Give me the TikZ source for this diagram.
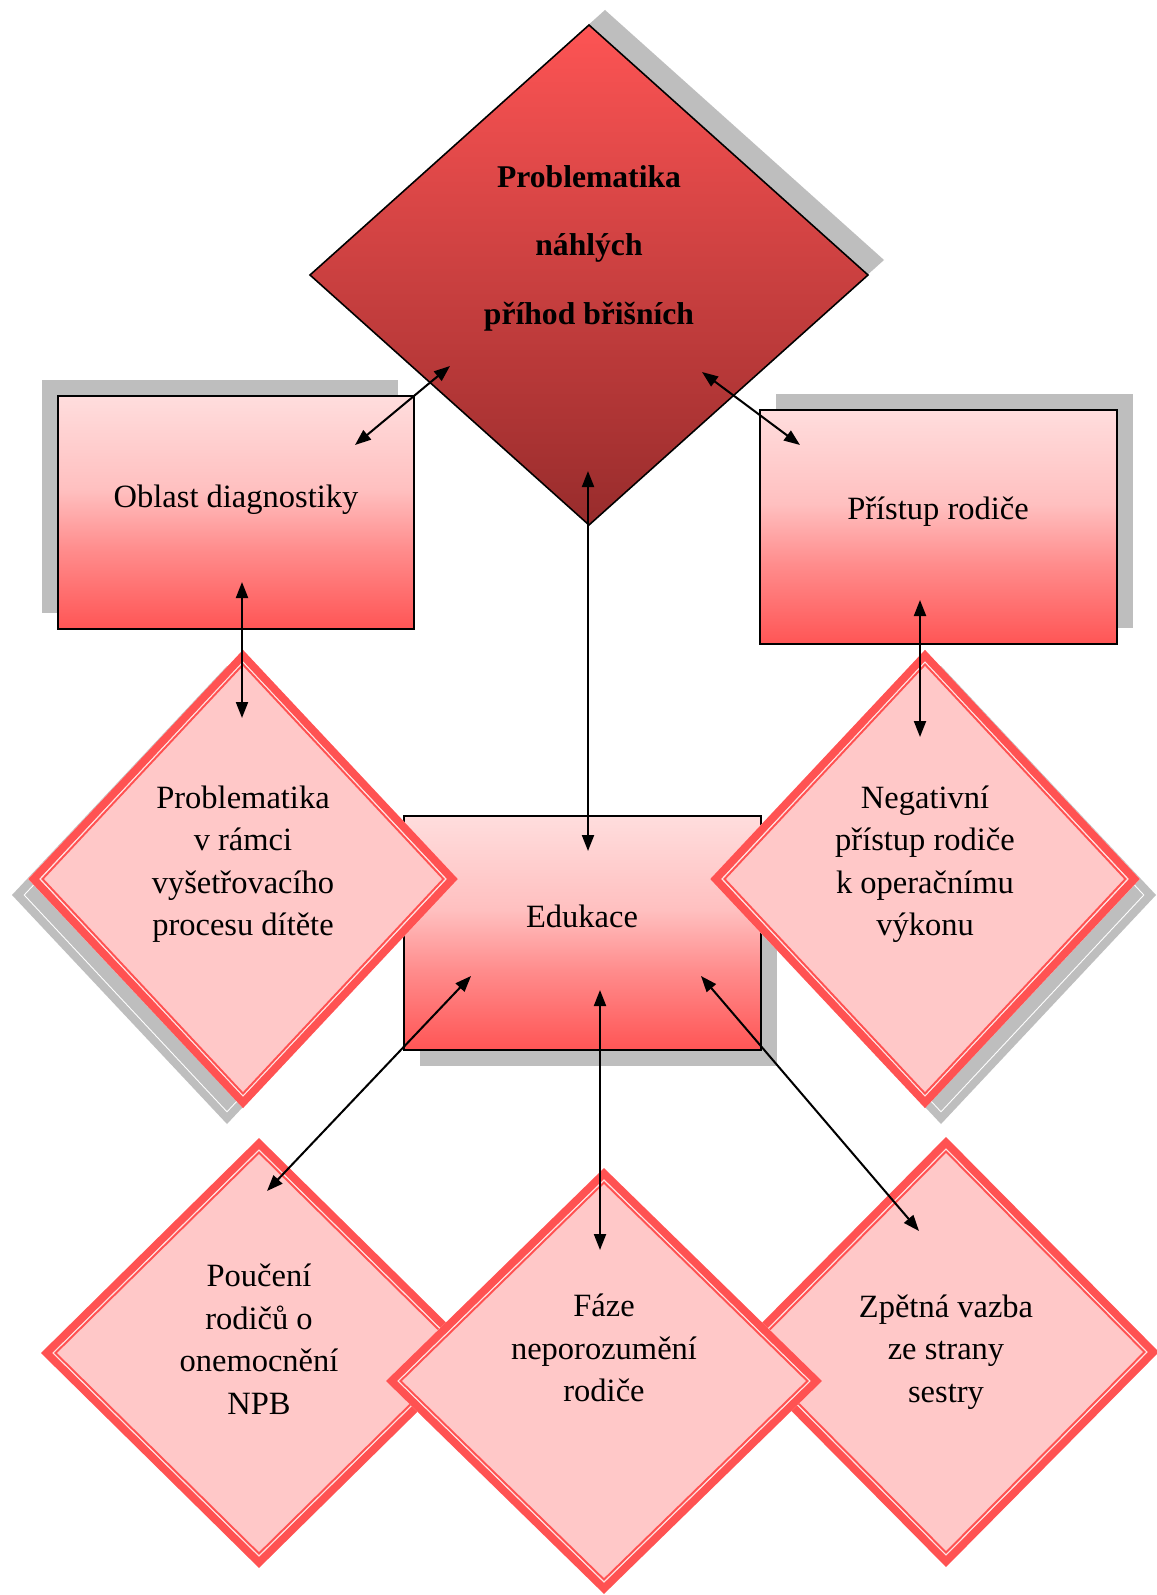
\documentclass[tikz,border=0pt]{standalone}
\usepackage{fontspec}
\setmainfont{Liberation Serif}
\usetikzlibrary{arrows.meta}

\definecolor{boxtop}{RGB}{255,221,221}
\definecolor{boxmid}{RGB}{255,192,192}
\definecolor{boxlow}{RGB}{255,140,140}
\definecolor{boxbot}{RGB}{255,85,85}
\definecolor{maintop}{RGB}{253,84,84}
\definecolor{mainbot}{RGB}{152,44,44}
\definecolor{dfill}{RGB}{255,200,200}
\definecolor{dred}{RGB}{255,82,82}
\definecolor{dgap}{RGB}{255,228,228}
\definecolor{shadowgray}{RGB}{190,190,190}

% light-to-red vertical gradient of the rectangular boxes
\pgfdeclareverticalshading{boxgrad}{100bp}{%
  color(0bp)=(boxbot); color(25bp)=(boxbot); color(42bp)=(boxlow);
  color(55bp)=(boxmid); color(75bp)=(boxtop); color(100bp)=(boxtop)}

\tikzset{
  link/.style={{Triangle[length=0.32cm,width=0.24cm]}-{Triangle[length=0.32cm,width=0.24cm]},
    line width=1.15pt, black},
  boxframe/.style={shading=boxgrad, draw=black, line width=1.1pt},
  txt/.style={inner sep=0pt, align=center, font=\fontsize{18.5}{24.2}\selectfont},
  titletxt/.style={inner sep=0pt, align=center, font=\fontsize{18}{39}\selectfont\bfseries},
}

% box with offset shadow: name, x1, y1, x2, y2, shadow dx, shadow dy
\newcommand{\gradbox}[7]{%
  \begin{scope}[shift={(#6,#7)}]
    \fill[shadowgray] (#2,#3) rectangle (#4,#5);
  \end{scope}
  \shadedraw[boxframe] (#2,#3) rectangle (#4,#5);
  \coordinate (#1) at ({(#2+#4)/2},{(#3+#5)/2});
}

% shadow of a framed diamond: cx, cy, hw, hh, dx, dy
\newcommand{\diamondshadow}[6]{%
  \begin{scope}[shift={(#5,#6)}]
    \fill[shadowgray] (#1-#3,#2) -- (#1,#2-#4) -- (#1+#3,#2) -- (#1,#2+#4) -- cycle;
    \draw[white, line width=0.5pt] (#1-#3+12.2,#2) -- (#1,#2-#4+12.2) -- (#1+#3-12.2,#2) -- (#1,#2+#4-12.2) -- cycle;
  \end{scope}
}

% pink diamond with thick-thin red frame: name, cx, cy, hw, hh
\newcommand{\pinkdiamond}[5]{%
  \fill[dfill] (#2-#4,#3) -- (#2,#3-#5) -- (#2+#4,#3) -- (#2,#3+#5) -- cycle;
  \draw[dred, line width=4.5pt] (#2-#4+5.7,#3) -- (#2,#3-#5+5.7) -- (#2+#4-5.7,#3) -- (#2,#3+#5-5.7) -- cycle;
  \draw[dgap, line width=0.7pt] (#2-#4+12.2,#3) -- (#2,#3-#5+12.2) -- (#2+#4-12.2,#3) -- (#2,#3+#5-12.2) -- cycle;
  \draw[dred, line width=1.1pt] (#2-#4+14.5,#3) -- (#2,#3-#5+14.5) -- (#2+#4-14.5,#3) -- (#2,#3+#5-14.5) -- cycle;
  \coordinate (#1) at (#2,#3);
}

\begin{document}
\begin{tikzpicture}[x=0.02cm, y=-0.02cm]
\useasboundingbox (0,0) rectangle (1156,1595);
\fill[white] (0,0) rectangle (1156,1595);

% upper boxes
\gradbox{diag}{58}{396}{414}{629}{-16}{-16}
\gradbox{access}{760}{410}{1117}{644}{16}{-16}

% main diamond
\fill[shadowgray] (326,260) -- (605,10) -- (884,260) -- (605,510) -- cycle;
\shadedraw[top color=maintop, bottom color=mainbot, draw=black, line width=0.9pt]
  (310,275) -- (589,25) -- (868,275) -- (589,525) -- cycle;
\coordinate (main) at (589,275);

% central box
\gradbox{edu}{404}{816}{761}{1050}{16}{16}

% middle diamonds
\diamondshadow{243}{879}{215}{229}{-16}{16}
\pinkdiamond{exam}{243}{879}{215}{229}
\diamondshadow{925}{879}{215}{229}{16}{16}
\pinkdiamond{neg}{925}{879}{215}{229}

% bottom diamonds
\pinkdiamond{inform}{259}{1353}{218}{215}
\pinkdiamond{feedback}{946}{1352}{213}{215}
\pinkdiamond{phase}{604}{1381}{218}{213}

% connector ends
\coordinate (mainL) at (450,366);  \coordinate (diagT) at (355,445);
\coordinate (mainR) at (702,372);  \coordinate (accessT) at (800,445);
\coordinate (mainB) at (588,471);  \coordinate (eduT) at (588,851);
\coordinate (diagB) at (242,582);  \coordinate (examT) at (242,718);
\coordinate (accessB) at (920,600); \coordinate (negT) at (920,737);
\coordinate (eduL) at (471,976);   \coordinate (informT) at (267,1191);
\coordinate (eduM) at (600,990);   \coordinate (phaseT) at (600,1250);
\coordinate (eduR) at (701,976);   \coordinate (feedbackT) at (919,1231);

\draw[link] (mainL) -- (diagT);
\draw[link] (mainR) -- (accessT);
\draw[link] (mainB) -- (eduT);
\draw[link] (diagB) -- (examT);
\draw[link] (accessB) -- (negT);
\draw[link] (eduL) -- (informT);
\draw[link] (eduM) -- (phaseT);
\draw[link] (eduR) -- (feedbackT);

% texts
\node[titletxt] (tMain) at (589,248) {Problematika\\náhlých\\příhod břišních};
\node[txt] (tDiag) at (236,500) {Oblast diagnostiky};
\node[txt] (tAccess) at (938,512) {Přístup rodiče};
\node[txt] (tEdu) at (582,916) {Edukace};
\node[txt] (tExam) at (243,864) {Problematika\\v rámci\\vyšetřovacího\\procesu dítěte};
\node[txt] (tNeg) at (925,864) {Negativní\\přístup rodiče\\k operačnímu\\výkonu};
\node[txt] (tInform) at (259,1339) {Poučení\\rodičů o\\onemocnění\\NPB};
\node[txt] (tPhase) at (604,1348) {Fáze\\neporozumění\\rodiče};
\node[txt] (tFeedback) at (946,1352) {Zpětná vazba\\ze strany\\sestry};
\end{tikzpicture}
\end{document}
